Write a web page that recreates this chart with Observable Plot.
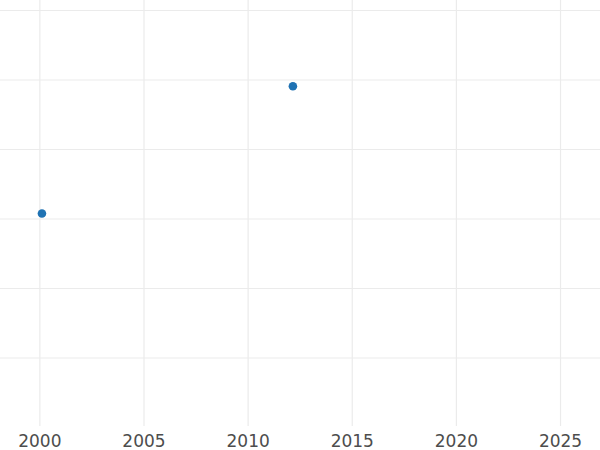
<!DOCTYPE html>
<html>
<head>
<meta charset="utf-8">
<script src="https://cdn.jsdelivr.net/npm/d3@7"></script>
<script src="https://cdn.jsdelivr.net/npm/@observablehq/plot@0.6"></script>
<style>
  html, body { margin: 0; padding: 0; background: #fff; }
  #chart { width: 600px; height: 450px; }
</style>
</head>
<body>
<div id="chart"></div>
<script>
const years = [2000.1, 2012.15];
const values = [2.08, 3.91];
const xTicks = [2000, 2005, 2010, 2015, 2020, 2025];
const yTicks = [0, 1, 2, 3, 4, 5];

const data = years.map((x, i) => ({x, y: values[i]}));

const chart = Plot.plot({
  width: 600,
  height: 450,
  marginLeft: 0,
  marginRight: 0,
  marginTop: 0,
  marginBottom: 24,
  style: {fontFamily: "DejaVu Sans", fontSize: "17px", color: "#4d4d4d", background: "#fff"},
  x: {domain: [1998.11, 2026.92], ticks: xTicks, tickFormat: d => String(d), label: null},
  y: {domain: [-0.986, 5.144], ticks: yTicks, label: null, axis: null},
  marks: [
    Plot.gridX(xTicks, {stroke: "#ebebeb", strokeOpacity: 1, strokeWidth: 1.2}),
    Plot.gridY(yTicks, {stroke: "#ebebeb", strokeOpacity: 1, strokeWidth: 1.2}),
    Plot.axisX(xTicks, {tickSize: 0, tickPadding: 8, fill: "#4d4d4d", fontSize: 17, tickFormat: d => String(d)}),
    Plot.dot(data, {x: "x", y: "y", r: 4.3, fill: "#1f72b3", stroke: "none"})
  ]
});
document.getElementById("chart").appendChild(chart);
</script>
</body>
</html>
